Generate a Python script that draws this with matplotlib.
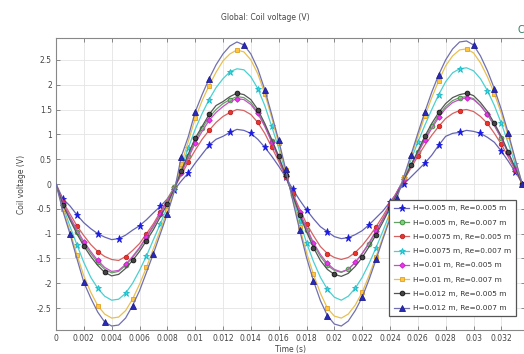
import numpy as np
import matplotlib
matplotlib.use("Agg")
import matplotlib.pyplot as plt
from matplotlib.ticker import FuncFormatter

# time samples (s)
t = np.arange(68) * 0.0005

labels = ["H=0.005 m, Re=0.005 m", "H=0.005 m, Re=0.007 m",
          "H=0.0075 m, Re=0.005 m", "H=0.0075 m, Re=0.007 m",
          "H=0.01 m, Re=0.005 m", "H=0.01 m, Re=0.007 m",
          "H=0.012 m, Re=0.005 m", "H=0.012 m, Re=0.007 m"]

v_h005_re005 = [0, -0.30, -0.44, -0.62, -0.78, -0.90, -1.00, -1.07, -1.12, -1.10,
                -1.03, -0.93, -0.84, -0.72, -0.58, -0.45, -0.30, -0.12, 0.06, 0.22,
                0.42, 0.60, 0.78, 0.90, 0.96, 1.04, 1.10, 1.08, 1.02, 0.90,
                0.74, 0.56, 0.36, 0.14, -0.10, -0.32, -0.52, -0.70, -0.86, -0.96,
                -1.06, -1.10, -1.08, -1.02, -0.94, -0.82, -0.68, -0.54, -0.36, -0.18,
                0.00, 0.14, 0.28, 0.42, 0.58, 0.78, 0.96, 1.02, 1.04, 1.08,
                1.06, 1.02, 0.94, 0.84, 0.66, 0.46, 0.24, 0.04]
v_h005_re007 = [0, -0.40, -0.68, -0.96, -1.20, -1.40, -1.58, -1.72, -1.79, -1.76,
                -1.64, -1.48, -1.30, -1.08, -0.86, -0.60, -0.30, -0.06, 0.24, 0.56,
                0.86, 1.12, 1.34, 1.50, 1.62, 1.70, 1.76, 1.74, 1.64, 1.44,
                1.18, 0.86, 0.52, 0.16, -0.22, -0.58, -0.92, -1.22, -1.46, -1.64,
                -1.74, -1.78, -1.72, -1.58, -1.40, -1.20, -0.96, -0.70, -0.44, -0.16,
                0.10, 0.38, 0.64, 0.92, 1.16, 1.38, 1.56, 1.68, 1.74, 1.76,
                1.72, 1.58, 1.40, 1.18, 0.92, 0.62, 0.30, 0.0]
v_h0075_re005 = [0, -0.36, -0.60, -0.84, -1.04, -1.22, -1.36, -1.46, -1.52, -1.54,
                 -1.46, -1.34, -1.20, -1.00, -0.80, -0.56, -0.32, -0.08, 0.18, 0.44,
                 0.68, 0.90, 1.08, 1.24, 1.36, 1.44, 1.50, 1.48, 1.40, 1.24,
                 1.02, 0.74, 0.46, 0.14, -0.18, -0.50, -0.80, -1.04, -1.26, -1.40,
                 -1.48, -1.52, -1.48, -1.38, -1.24, -1.06, -0.86, -0.64, -0.40, -0.16,
                 0.08, 0.32, 0.56, 0.78, 0.98, 1.16, 1.32, 1.42, 1.48, 1.50,
                 1.46, 1.36, 1.22, 1.02, 0.80, 0.54, 0.28, 0.0]
v_h0075_re007 = [0, -0.45, -0.85, -1.22, -1.58, -1.88, -2.10, -2.26, -2.34, -2.32,
                 -2.20, -2.00, -1.74, -1.45, -1.12, -0.80, -0.46, -0.08, 0.32, 0.72,
                 1.10, 1.42, 1.70, 1.94, 2.12, 2.26, 2.32, 2.30, 2.16, 1.92,
                 1.58, 1.16, 0.72, 0.24, -0.26, -0.74, -1.18, -1.56, -1.88, -2.12,
                 -2.28, -2.34, -2.26, -2.10, -1.88, -1.60, -1.28, -0.94, -0.58, -0.22,
                 0.12, 0.48, 0.84, 1.18, 1.50, 1.80, 2.06, 2.24, 2.32, 2.34,
                 2.28, 2.12, 1.88, 1.58, 1.22, 0.82, 0.40, 0.0]
v_h01_re005 = [0, -0.38, -0.66, -0.92, -1.16, -1.36, -1.54, -1.68, -1.76, -1.74,
               -1.62, -1.46, -1.28, -1.06, -0.84, -0.60, -0.34, -0.08, 0.22, 0.52,
               0.82, 1.06, 1.28, 1.44, 1.56, 1.66, 1.72, 1.70, 1.60, 1.42,
               1.16, 0.84, 0.52, 0.16, -0.20, -0.56, -0.88, -1.18, -1.42, -1.60,
               -1.72, -1.77, -1.72, -1.58, -1.40, -1.18, -0.94, -0.70, -0.44, -0.16,
               0.10, 0.36, 0.62, 0.88, 1.12, 1.34, 1.52, 1.64, 1.70, 1.74,
               1.70, 1.58, 1.40, 1.18, 0.92, 0.62, 0.30, 0.0]
v_h01_re007 = [0, -0.50, -0.95, -1.42, -1.85, -2.18, -2.45, -2.62, -2.70, -2.68,
               -2.55, -2.32, -2.02, -1.68, -1.30, -0.92, -0.52, -0.10, 0.40, 0.85,
               1.32, 1.68, 1.98, 2.25, 2.48, 2.62, 2.70, 2.66, 2.50, 2.22,
               1.82, 1.34, 0.82, 0.28, -0.30, -0.86, -1.38, -1.82, -2.20, -2.50,
               -2.66, -2.70, -2.62, -2.44, -2.18, -1.84, -1.46, -1.06, -0.66, -0.26,
               0.14, 0.54, 0.95, 1.36, 1.74, 2.08, 2.38, 2.58, 2.70, 2.72,
               2.64, 2.44, 2.16, 1.82, 1.42, 0.96, 0.48, 0.0]
v_h012_re005 = [0, -0.42, -0.72, -1.00, -1.25, -1.46, -1.64, -1.78, -1.85, -1.82,
                -1.70, -1.54, -1.36, -1.14, -0.92, -0.66, -0.40, -0.10, 0.26, 0.60,
                0.92, 1.16, 1.40, 1.58, 1.66, 1.76, 1.83, 1.80, 1.70, 1.50,
                1.22, 0.90, 0.56, 0.18, -0.22, -0.62, -0.96, -1.28, -1.54, -1.72,
                -1.82, -1.86, -1.80, -1.66, -1.48, -1.26, -1.02, -0.76, -0.48, -0.20,
                0.08, 0.38, 0.66, 0.96, 1.22, 1.44, 1.62, 1.74, 1.80, 1.83,
                1.78, 1.64, 1.46, 1.22, 0.96, 0.64, 0.32, 0.0]
v_h012_re007 = [0, -0.55, -1.00, -1.50, -1.98, -2.30, -2.58, -2.78, -2.86, -2.84,
                -2.70, -2.45, -2.15, -1.78, -1.40, -1.00, -0.60, -0.15, 0.55, 0.95,
                1.45, 1.80, 2.12, 2.40, 2.62, 2.78, 2.86, 2.80, 2.62, 2.32,
                1.90, 1.40, 0.88, 0.30, -0.32, -0.92, -1.48, -1.95, -2.35, -2.65,
                -2.82, -2.86, -2.76, -2.55, -2.28, -1.92, -1.52, -1.10, -0.70, -0.28,
                0.15, 0.58, 1.02, 1.45, 1.85, 2.20, 2.50, 2.72, 2.86, 2.88,
                2.80, 2.58, 2.28, 1.92, 1.50, 1.02, 0.50, 0.0]

series = [v_h005_re005, v_h005_re007, v_h0075_re005, v_h0075_re007,
          v_h01_re005, v_h01_re007, v_h012_re005, v_h012_re007]

# (marker, line colour, face, edge, size)
styles = [("*", "#6464b4", "#1a1ae6", "#1a1ae6", 5.2),
          ("o", "#669f66", "#7fcf7f", "#2f8f2f", 3.4),
          ("o", "#d66262", "#e8362e", "#c02020", 3.2),
          ("*", "#4ad0d0", "#2fdede", "#1fb8c8", 4.6),
          ("D", "#c454c4", "#ee33ee", "#c020c0", 2.8),
          ("s", "#e8c050", "#ffc640", "#e0a020", 3.4),
          ("o", "#555555", "#444444", "#111111", 3.4),
          ("^", "#7070b0", "#2a2ab8", "#1c1c90", 3.8)]

fig = plt.figure(figsize=(5.24, 3.54), dpi=100)
ax = fig.add_axes([56 / 524, 1 - 330 / 354, 469 / 524, 292 / 354])
ax.set_xlim(0, 0.0337)
ax.set_ylim(-2.94, 2.94)
fig.canvas.draw()

diag = np.hypot(*ax.bbox.size)
for k, (vals, lab, st) in enumerate(zip(series, labels, styles)):
    m, lc, fc, ec, ms = st
    y = np.array(vals)
    pts = ax.transData.transform(np.column_stack([t, y]))
    length = np.sum(np.hypot(*np.diff(pts, axis=0).T))
    step = length / 26 / diag
    ax.plot(t, y, color=lc, lw=0.9, marker=m, ms=ms, mfc=fc, mec=ec, mew=0.6,
            markevery=(step * (0.5 + 0.06 * k), step), label=lab, zorder=3)

ax.set_xticks(np.arange(0, 0.0321, 0.002))
ax.set_yticks(np.arange(-2.5, 2.51, 0.5))
ax.xaxis.set_major_formatter(FuncFormatter(lambda v, p: f"{round(v, 4):g}"))
ax.yaxis.set_major_formatter(FuncFormatter(lambda v, p: f"{round(v, 2):g}"))
ax.tick_params(direction="in", length=3, width=0.6, top=True, right=True,
               labelsize=5.5, labelcolor="#444444", color="#777777", pad=3)
ax.grid(True, color="#e4e4e4", lw=0.6)
ax.set_axisbelow(True)
for sp in ax.spines.values():
    sp.set_color("#888888")
    sp.set_linewidth(0.8)

ax.set_xlabel("Time (s)", fontsize=5.5, color="#444444", labelpad=1)
ax.set_ylabel("Coil voltage (V)", fontsize=5.5, color="#444444", labelpad=8)
fig.text(265 / 524, 1 - 17 / 354, "Global: Coil voltage (V)", fontsize=5.5,
         color="#444444", ha="center", va="center")
fig.text(518 / 524, 1 - 30 / 354, "C", fontsize=7, color="#2f7f5f",
         ha="left", va="center")

leg = ax.legend(loc="lower right", bbox_to_anchor=(0.989, 0.034), fontsize=5.3,
                labelspacing=1.1, handlelength=2.0, handletextpad=0.5,
                borderpad=0.7, fancybox=False, framealpha=1, edgecolor="#555555")
leg.get_frame().set_linewidth(0.9)
for txt in leg.get_texts():
    txt.set_color("#333333")

fig.savefig("out.png", dpi=100)
